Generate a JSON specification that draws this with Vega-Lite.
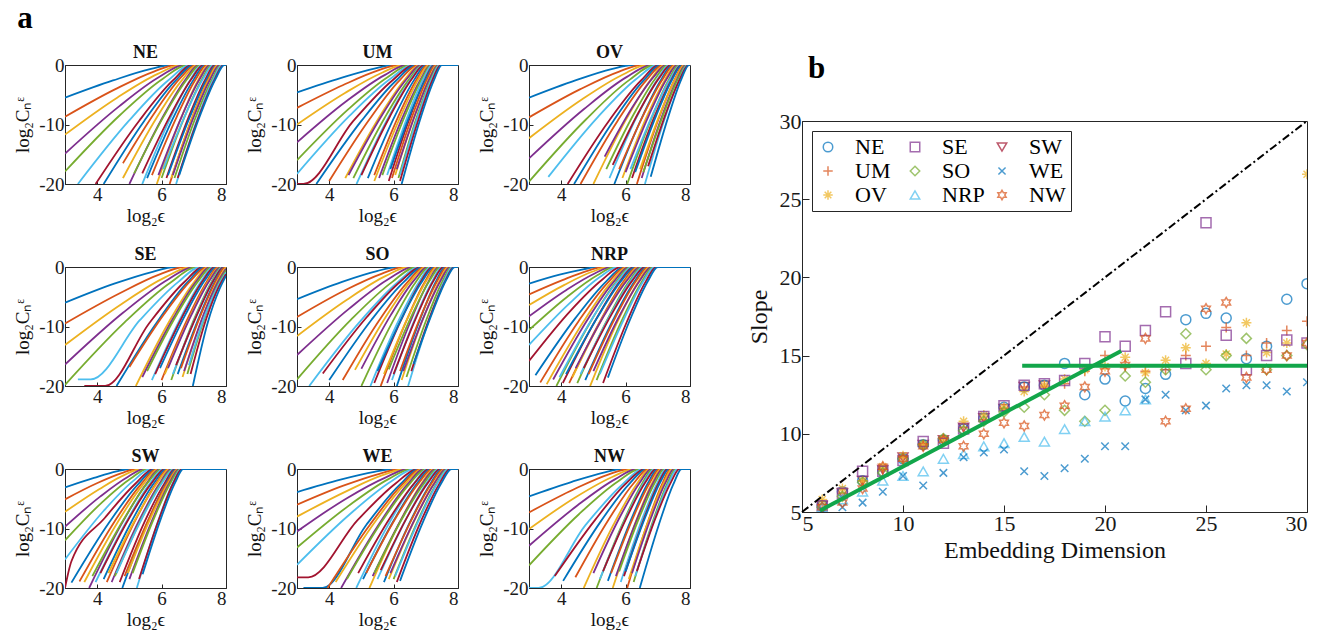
{
"$schema":"https://vega.github.io/schema/vega-lite/v6.json",
"padding":{"left":13,"top":2,"right":4,"bottom":0},
"config":{"font":"Liberation Serif","view":{"stroke":"#262626","strokeWidth":1},
"axis":{"grid":false,"domainColor":"#262626","tickColor":"#262626","labelColor":"#1a1a1a","titleColor":"#111111","labelFont":"Liberation Serif","titleFont":"Liberation Serif","titleFontWeight":"normal","tickSize":-5,"labelPadding":8},
"header":{"labelFont":"Liberation Serif","labelFontWeight":"bold","labelFontSize":18,"labelColor":"#111111","labelPadding":-6}},
"datasets":{
"curves":[
{"p":"NE","m":2,"x":3,"y":-5.5},{"p":"NE","m":2,"x":4.49,"y":-2.6},{"p":"NE","m":2,"x":5.64,"y":-0.7},{"p":"NE","m":2,"x":6.3,"y":0},{"p":"NE","m":2,"x":8,"y":0},
{"p":"NE","m":3,"x":3,"y":-8.7},{"p":"NE","m":3,"x":4.55,"y":-4.1},{"p":"NE","m":3,"x":5.76,"y":-1.1},{"p":"NE","m":3,"x":6.45,"y":0},{"p":"NE","m":3,"x":8,"y":0},
{"p":"NE","m":4,"x":3,"y":-11.7},{"p":"NE","m":4,"x":4.62,"y":-5.5},{"p":"NE","m":4,"x":5.88,"y":-1.5},{"p":"NE","m":4,"x":6.6,"y":0},{"p":"NE","m":4,"x":8,"y":0},
{"p":"NE","m":5,"x":3,"y":-14.9},{"p":"NE","m":5,"x":4.67,"y":-7.0},{"p":"NE","m":5,"x":5.96,"y":-1.9},{"p":"NE","m":5,"x":6.7,"y":0},{"p":"NE","m":5,"x":8,"y":0},
{"p":"NE","m":6,"x":3,"y":-17.9},{"p":"NE","m":6,"x":4.71,"y":-8.4},{"p":"NE","m":6,"x":6.04,"y":-2.3},{"p":"NE","m":6,"x":6.8,"y":0},{"p":"NE","m":6,"x":8,"y":0},
{"p":"NE","m":7,"x":3.4,"y":-20},{"p":"NE","m":7,"x":4.98,"y":-9.4},{"p":"NE","m":7,"x":6.2,"y":-2.6},{"p":"NE","m":7,"x":6.9,"y":0},{"p":"NE","m":7,"x":8,"y":0},
{"p":"NE","m":8,"x":3.95,"y":-20},{"p":"NE","m":8,"x":5.3,"y":-9.4},{"p":"NE","m":8,"x":6.35,"y":-2.6},{"p":"NE","m":8,"x":6.95,"y":0},{"p":"NE","m":8,"x":8,"y":0},
{"p":"NE","m":9,"x":4.2,"y":-20},{"p":"NE","m":9,"x":5.46,"y":-9.4},{"p":"NE","m":9,"x":6.44,"y":-2.6},{"p":"NE","m":9,"x":7.0,"y":0},{"p":"NE","m":9,"x":8,"y":0},
{"p":"NE","m":10,"x":4.8,"y":-16.5},{"p":"NE","m":10,"x":5.81,"y":-7.8},{"p":"NE","m":10,"x":6.6,"y":-2.1},{"p":"NE","m":10,"x":7.05,"y":0},{"p":"NE","m":10,"x":8,"y":0},
{"p":"NE","m":11,"x":4.8,"y":-19},{"p":"NE","m":11,"x":5.84,"y":-8.9},{"p":"NE","m":11,"x":6.64,"y":-2.5},{"p":"NE","m":11,"x":7.1,"y":0},{"p":"NE","m":11,"x":8,"y":0},
{"p":"NE","m":12,"x":5.0,"y":-20},{"p":"NE","m":12,"x":5.97,"y":-9.4},{"p":"NE","m":12,"x":6.72,"y":-2.6},{"p":"NE","m":12,"x":7.15,"y":0},{"p":"NE","m":12,"x":8,"y":0},
{"p":"NE","m":13,"x":5.15,"y":-18.2},{"p":"NE","m":13,"x":6.07,"y":-8.6},{"p":"NE","m":13,"x":6.79,"y":-2.4},{"p":"NE","m":13,"x":7.2,"y":0},{"p":"NE","m":13,"x":8,"y":0},
{"p":"NE","m":14,"x":5.4,"y":-20},{"p":"NE","m":14,"x":6.23,"y":-9.4},{"p":"NE","m":14,"x":6.88,"y":-2.6},{"p":"NE","m":14,"x":7.25,"y":0},{"p":"NE","m":14,"x":8,"y":0},
{"p":"NE","m":15,"x":5.4,"y":-18.2},{"p":"NE","m":15,"x":6.26,"y":-8.6},{"p":"NE","m":15,"x":6.92,"y":-2.4},{"p":"NE","m":15,"x":7.3,"y":0},{"p":"NE","m":15,"x":8,"y":0},
{"p":"NE","m":16,"x":5.55,"y":-19},{"p":"NE","m":16,"x":6.36,"y":-8.9},{"p":"NE","m":16,"x":6.99,"y":-2.5},{"p":"NE","m":16,"x":7.35,"y":0},{"p":"NE","m":16,"x":8,"y":0},
{"p":"NE","m":17,"x":5.7,"y":-18.5},{"p":"NE","m":17,"x":6.47,"y":-8.7},{"p":"NE","m":17,"x":7.06,"y":-2.4},{"p":"NE","m":17,"x":7.4,"y":0},{"p":"NE","m":17,"x":8,"y":0},
{"p":"NE","m":18,"x":5.85,"y":-20},{"p":"NE","m":18,"x":6.57,"y":-9.4},{"p":"NE","m":18,"x":7.13,"y":-2.6},{"p":"NE","m":18,"x":7.45,"y":0},{"p":"NE","m":18,"x":8,"y":0},
{"p":"NE","m":19,"x":5.9,"y":-18.5},{"p":"NE","m":19,"x":6.62,"y":-8.7},{"p":"NE","m":19,"x":7.18,"y":-2.4},{"p":"NE","m":19,"x":7.5,"y":0},{"p":"NE","m":19,"x":8,"y":0},
{"p":"NE","m":20,"x":6.0,"y":-19},{"p":"NE","m":20,"x":6.7,"y":-8.9},{"p":"NE","m":20,"x":7.24,"y":-2.5},{"p":"NE","m":20,"x":7.55,"y":0},{"p":"NE","m":20,"x":8,"y":0},
{"p":"NE","m":21,"x":6.05,"y":-17.5},{"p":"NE","m":21,"x":6.75,"y":-8.2},{"p":"NE","m":21,"x":7.29,"y":-2.3},{"p":"NE","m":21,"x":7.6,"y":0},{"p":"NE","m":21,"x":8,"y":0},
{"p":"NE","m":22,"x":6.15,"y":-19},{"p":"NE","m":22,"x":6.83,"y":-8.9},{"p":"NE","m":22,"x":7.35,"y":-2.5},{"p":"NE","m":22,"x":7.65,"y":0},{"p":"NE","m":22,"x":8,"y":0},
{"p":"NE","m":23,"x":6.2,"y":-18.5},{"p":"NE","m":23,"x":6.88,"y":-8.7},{"p":"NE","m":23,"x":7.4,"y":-2.4},{"p":"NE","m":23,"x":7.7,"y":0},{"p":"NE","m":23,"x":8,"y":0},
{"p":"NE","m":24,"x":6.25,"y":-20},{"p":"NE","m":24,"x":6.91,"y":-9.4},{"p":"NE","m":24,"x":7.43,"y":-2.6},{"p":"NE","m":24,"x":7.72,"y":0},{"p":"NE","m":24,"x":8,"y":0},
{"p":"NE","m":25,"x":6.3,"y":-19},{"p":"NE","m":25,"x":6.95,"y":-8.9},{"p":"NE","m":25,"x":7.46,"y":-2.5},{"p":"NE","m":25,"x":7.75,"y":0},{"p":"NE","m":25,"x":8,"y":0},
{"p":"NE","m":26,"x":6.35,"y":-18.5},{"p":"NE","m":26,"x":7.0,"y":-8.7},{"p":"NE","m":26,"x":7.51,"y":-2.4},{"p":"NE","m":26,"x":7.8,"y":0},{"p":"NE","m":26,"x":8,"y":0},
{"p":"NE","m":27,"x":6.4,"y":-19},{"p":"NE","m":27,"x":7.05,"y":-8.9},{"p":"NE","m":27,"x":7.56,"y":-2.5},{"p":"NE","m":27,"x":7.85,"y":0},{"p":"NE","m":27,"x":8,"y":0},
{"p":"NE","m":28,"x":6.45,"y":-20},{"p":"NE","m":28,"x":7.09,"y":-9.4},{"p":"NE","m":28,"x":7.59,"y":-2.6},{"p":"NE","m":28,"x":7.88,"y":0},{"p":"NE","m":28,"x":8,"y":0},
{"p":"NE","m":29,"x":6.5,"y":-19},{"p":"NE","m":29,"x":7.14,"y":-8.9},{"p":"NE","m":29,"x":7.64,"y":-2.5},{"p":"NE","m":29,"x":7.92,"y":0},{"p":"NE","m":29,"x":8,"y":0},
{"p":"NE","m":30,"x":6.55,"y":-18.5},{"p":"NE","m":30,"x":7.18,"y":-8.7},{"p":"NE","m":30,"x":7.67,"y":-2.4},{"p":"NE","m":30,"x":7.95,"y":0},{"p":"NE","m":30,"x":8,"y":0},
{"p":"UM","m":2,"x":3,"y":-4.6},{"p":"UM","m":2,"x":4.35,"y":-2.2},{"p":"UM","m":2,"x":5.4,"y":-0.6},{"p":"UM","m":2,"x":6.0,"y":0},{"p":"UM","m":2,"x":8,"y":0},
{"p":"UM","m":3,"x":3,"y":-7.2},{"p":"UM","m":3,"x":4.42,"y":-3.4},{"p":"UM","m":3,"x":5.52,"y":-0.9},{"p":"UM","m":3,"x":6.15,"y":0},{"p":"UM","m":3,"x":8,"y":0},
{"p":"UM","m":4,"x":3,"y":-10.0},{"p":"UM","m":4,"x":4.49,"y":-4.7},{"p":"UM","m":4,"x":5.64,"y":-1.3},{"p":"UM","m":4,"x":6.3,"y":0},{"p":"UM","m":4,"x":8,"y":0},
{"p":"UM","m":5,"x":3,"y":-13.0},{"p":"UM","m":5,"x":4.53,"y":-6.1},{"p":"UM","m":5,"x":5.72,"y":-1.7},{"p":"UM","m":5,"x":6.4,"y":0},{"p":"UM","m":5,"x":8,"y":0},
{"p":"UM","m":6,"x":3,"y":-16.0},{"p":"UM","m":6,"x":4.58,"y":-7.5},{"p":"UM","m":6,"x":5.8,"y":-2.1},{"p":"UM","m":6,"x":6.5,"y":0},{"p":"UM","m":6,"x":8,"y":0},
{"p":"UM","m":7,"x":3,"y":-18.3},{"p":"UM","m":7,"x":4.62,"y":-8.6},{"p":"UM","m":7,"x":5.88,"y":-2.4},{"p":"UM","m":7,"x":6.6,"y":0},{"p":"UM","m":7,"x":8,"y":0},
{"p":"UM","m":8,"x":3,"y":-20},{"p":"UM","m":8,"x":3.2,"y":-20},{"p":"UM","m":8,"x":4.75,"y":-9.4},{"p":"UM","m":8,"x":5.96,"y":-2.6},{"p":"UM","m":8,"x":6.65,"y":0},{"p":"UM","m":8,"x":8,"y":0},
{"p":"UM","m":9,"x":3.6,"y":-20},{"p":"UM","m":9,"x":5.0,"y":-9.4},{"p":"UM","m":9,"x":6.08,"y":-2.6},{"p":"UM","m":9,"x":6.7,"y":0},{"p":"UM","m":9,"x":8,"y":0},
{"p":"UM","m":10,"x":4.0,"y":-19.5},{"p":"UM","m":10,"x":5.24,"y":-9.2},{"p":"UM","m":10,"x":6.2,"y":-2.5},{"p":"UM","m":10,"x":6.75,"y":0},{"p":"UM","m":10,"x":8,"y":0},
{"p":"UM","m":11,"x":4.5,"y":-19},{"p":"UM","m":11,"x":5.54,"y":-8.9},{"p":"UM","m":11,"x":6.34,"y":-2.5},{"p":"UM","m":11,"x":6.8,"y":0},{"p":"UM","m":11,"x":8,"y":0},
{"p":"UM","m":12,"x":4.6,"y":-18.5},{"p":"UM","m":12,"x":5.61,"y":-8.7},{"p":"UM","m":12,"x":6.4,"y":-2.4},{"p":"UM","m":12,"x":6.85,"y":0},{"p":"UM","m":12,"x":8,"y":0},
{"p":"UM","m":13,"x":4.75,"y":-19},{"p":"UM","m":13,"x":5.72,"y":-8.9},{"p":"UM","m":13,"x":6.47,"y":-2.5},{"p":"UM","m":13,"x":6.9,"y":0},{"p":"UM","m":13,"x":8,"y":0},
{"p":"UM","m":14,"x":4.85,"y":-20},{"p":"UM","m":14,"x":5.78,"y":-9.4},{"p":"UM","m":14,"x":6.51,"y":-2.6},{"p":"UM","m":14,"x":6.92,"y":0},{"p":"UM","m":14,"x":8,"y":0},
{"p":"UM","m":15,"x":5.0,"y":-18.5},{"p":"UM","m":15,"x":5.88,"y":-8.7},{"p":"UM","m":15,"x":6.56,"y":-2.4},{"p":"UM","m":15,"x":6.95,"y":0},{"p":"UM","m":15,"x":8,"y":0},
{"p":"UM","m":16,"x":5.2,"y":-19},{"p":"UM","m":16,"x":6.01,"y":-8.9},{"p":"UM","m":16,"x":6.64,"y":-2.5},{"p":"UM","m":16,"x":7.0,"y":0},{"p":"UM","m":16,"x":8,"y":0},
{"p":"UM","m":17,"x":5.4,"y":-18.5},{"p":"UM","m":17,"x":6.14,"y":-8.7},{"p":"UM","m":17,"x":6.72,"y":-2.4},{"p":"UM","m":17,"x":7.05,"y":0},{"p":"UM","m":17,"x":8,"y":0},
{"p":"UM","m":18,"x":5.4,"y":-19.5},{"p":"UM","m":18,"x":6.17,"y":-9.2},{"p":"UM","m":18,"x":6.76,"y":-2.5},{"p":"UM","m":18,"x":7.1,"y":0},{"p":"UM","m":18,"x":8,"y":0},
{"p":"UM","m":19,"x":5.55,"y":-19},{"p":"UM","m":19,"x":6.27,"y":-8.9},{"p":"UM","m":19,"x":6.83,"y":-2.5},{"p":"UM","m":19,"x":7.15,"y":0},{"p":"UM","m":19,"x":8,"y":0},
{"p":"UM","m":20,"x":5.65,"y":-18.5},{"p":"UM","m":20,"x":6.34,"y":-8.7},{"p":"UM","m":20,"x":6.87,"y":-2.4},{"p":"UM","m":20,"x":7.18,"y":0},{"p":"UM","m":20,"x":8,"y":0},
{"p":"UM","m":21,"x":5.8,"y":-18.5},{"p":"UM","m":21,"x":6.43,"y":-8.7},{"p":"UM","m":21,"x":6.92,"y":-2.4},{"p":"UM","m":21,"x":7.2,"y":0},{"p":"UM","m":21,"x":8,"y":0},
{"p":"UM","m":22,"x":5.85,"y":-19.5},{"p":"UM","m":22,"x":6.48,"y":-9.2},{"p":"UM","m":22,"x":6.97,"y":-2.5},{"p":"UM","m":22,"x":7.25,"y":0},{"p":"UM","m":22,"x":8,"y":0},
{"p":"UM","m":23,"x":5.9,"y":-17.5},{"p":"UM","m":23,"x":6.52,"y":-8.2},{"p":"UM","m":23,"x":7.0,"y":-2.3},{"p":"UM","m":23,"x":7.28,"y":0},{"p":"UM","m":23,"x":8,"y":0},
{"p":"UM","m":24,"x":5.95,"y":-19},{"p":"UM","m":24,"x":6.56,"y":-8.9},{"p":"UM","m":24,"x":7.03,"y":-2.5},{"p":"UM","m":24,"x":7.3,"y":0},{"p":"UM","m":24,"x":8,"y":0},
{"p":"UM","m":25,"x":6.05,"y":-18.5},{"p":"UM","m":25,"x":6.64,"y":-8.7},{"p":"UM","m":25,"x":7.09,"y":-2.4},{"p":"UM","m":25,"x":7.35,"y":0},{"p":"UM","m":25,"x":8,"y":0},
{"p":"UM","m":26,"x":6.1,"y":-17.5},{"p":"UM","m":26,"x":6.68,"y":-8.2},{"p":"UM","m":26,"x":7.12,"y":-2.3},{"p":"UM","m":26,"x":7.38,"y":0},{"p":"UM","m":26,"x":8,"y":0},
{"p":"UM","m":27,"x":6.15,"y":-19},{"p":"UM","m":27,"x":6.71,"y":-8.9},{"p":"UM","m":27,"x":7.15,"y":-2.5},{"p":"UM","m":27,"x":7.4,"y":0},{"p":"UM","m":27,"x":8,"y":0},
{"p":"UM","m":28,"x":6.2,"y":-18.5},{"p":"UM","m":28,"x":6.75,"y":-8.7},{"p":"UM","m":28,"x":7.18,"y":-2.4},{"p":"UM","m":28,"x":7.43,"y":0},{"p":"UM","m":28,"x":8,"y":0},
{"p":"UM","m":29,"x":6.2,"y":-19.5},{"p":"UM","m":29,"x":6.77,"y":-9.2},{"p":"UM","m":29,"x":7.21,"y":-2.5},{"p":"UM","m":29,"x":7.46,"y":0},{"p":"UM","m":29,"x":8,"y":0},
{"p":"UM","m":30,"x":6.25,"y":-20},{"p":"UM","m":30,"x":6.81,"y":-9.4},{"p":"UM","m":30,"x":7.25,"y":-2.6},{"p":"UM","m":30,"x":7.5,"y":0},{"p":"UM","m":30,"x":8,"y":0},
{"p":"OV","m":2,"x":3,"y":-5.5},{"p":"OV","m":2,"x":4.44,"y":-2.6},{"p":"OV","m":2,"x":5.56,"y":-0.7},{"p":"OV","m":2,"x":6.2,"y":0},{"p":"OV","m":2,"x":8,"y":0},
{"p":"OV","m":3,"x":3,"y":-8.8},{"p":"OV","m":3,"x":4.58,"y":-4.1},{"p":"OV","m":3,"x":5.8,"y":-1.1},{"p":"OV","m":3,"x":6.5,"y":0},{"p":"OV","m":3,"x":8,"y":0},
{"p":"OV","m":4,"x":3,"y":-12.3},{"p":"OV","m":4,"x":4.64,"y":-5.8},{"p":"OV","m":4,"x":5.92,"y":-1.6},{"p":"OV","m":4,"x":6.65,"y":0},{"p":"OV","m":4,"x":8,"y":0},
{"p":"OV","m":5,"x":3,"y":-15.7},{"p":"OV","m":5,"x":4.71,"y":-7.4},{"p":"OV","m":5,"x":6.04,"y":-2.0},{"p":"OV","m":5,"x":6.8,"y":0},{"p":"OV","m":5,"x":8,"y":0},
{"p":"OV","m":6,"x":3,"y":-19.6},{"p":"OV","m":6,"x":4.76,"y":-9.2},{"p":"OV","m":6,"x":6.12,"y":-2.5},{"p":"OV","m":6,"x":6.9,"y":0},{"p":"OV","m":6,"x":8,"y":0},
{"p":"OV","m":7,"x":3.6,"y":-18.8},{"p":"OV","m":7,"x":5.13,"y":-8.8},{"p":"OV","m":7,"x":6.32,"y":-2.4},{"p":"OV","m":7,"x":7.0,"y":0},{"p":"OV","m":7,"x":8,"y":0},
{"p":"OV","m":8,"x":4.2,"y":-20},{"p":"OV","m":8,"x":5.48,"y":-9.4},{"p":"OV","m":8,"x":6.48,"y":-2.6},{"p":"OV","m":8,"x":7.05,"y":0},{"p":"OV","m":8,"x":8,"y":0},
{"p":"OV","m":9,"x":4.4,"y":-20},{"p":"OV","m":9,"x":5.62,"y":-9.4},{"p":"OV","m":9,"x":6.56,"y":-2.6},{"p":"OV","m":9,"x":7.1,"y":0},{"p":"OV","m":9,"x":8,"y":0},
{"p":"OV","m":10,"x":4.6,"y":-20},{"p":"OV","m":10,"x":5.75,"y":-9.4},{"p":"OV","m":10,"x":6.64,"y":-2.6},{"p":"OV","m":10,"x":7.15,"y":0},{"p":"OV","m":10,"x":8,"y":0},
{"p":"OV","m":11,"x":5.0,"y":-20},{"p":"OV","m":11,"x":5.99,"y":-9.4},{"p":"OV","m":11,"x":6.76,"y":-2.6},{"p":"OV","m":11,"x":7.2,"y":0},{"p":"OV","m":11,"x":8,"y":0},
{"p":"OV","m":12,"x":5.35,"y":-15.4},{"p":"OV","m":12,"x":6.2,"y":-7.2},{"p":"OV","m":12,"x":6.87,"y":-2.0},{"p":"OV","m":12,"x":7.25,"y":0},{"p":"OV","m":12,"x":8,"y":0},
{"p":"OV","m":13,"x":5.4,"y":-17.5},{"p":"OV","m":13,"x":6.26,"y":-8.2},{"p":"OV","m":13,"x":6.92,"y":-2.3},{"p":"OV","m":13,"x":7.3,"y":0},{"p":"OV","m":13,"x":8,"y":0},
{"p":"OV","m":14,"x":5.5,"y":-19},{"p":"OV","m":14,"x":6.33,"y":-8.9},{"p":"OV","m":14,"x":6.98,"y":-2.5},{"p":"OV","m":14,"x":7.35,"y":0},{"p":"OV","m":14,"x":8,"y":0},
{"p":"OV","m":15,"x":5.6,"y":-16.8},{"p":"OV","m":15,"x":6.41,"y":-7.9},{"p":"OV","m":15,"x":7.04,"y":-2.2},{"p":"OV","m":15,"x":7.4,"y":0},{"p":"OV","m":15,"x":8,"y":0},
{"p":"OV","m":16,"x":5.65,"y":-20},{"p":"OV","m":16,"x":6.46,"y":-9.4},{"p":"OV","m":16,"x":7.09,"y":-2.6},{"p":"OV","m":16,"x":7.45,"y":0},{"p":"OV","m":16,"x":8,"y":0},
{"p":"OV","m":17,"x":5.8,"y":-17.5},{"p":"OV","m":17,"x":6.57,"y":-8.2},{"p":"OV","m":17,"x":7.16,"y":-2.3},{"p":"OV","m":17,"x":7.5,"y":0},{"p":"OV","m":17,"x":8,"y":0},
{"p":"OV","m":18,"x":5.9,"y":-19},{"p":"OV","m":18,"x":6.64,"y":-8.9},{"p":"OV","m":18,"x":7.22,"y":-2.5},{"p":"OV","m":18,"x":7.55,"y":0},{"p":"OV","m":18,"x":8,"y":0},
{"p":"OV","m":19,"x":6.0,"y":-18},{"p":"OV","m":19,"x":6.72,"y":-8.5},{"p":"OV","m":19,"x":7.28,"y":-2.3},{"p":"OV","m":19,"x":7.6,"y":0},{"p":"OV","m":19,"x":8,"y":0},
{"p":"OV","m":20,"x":6.05,"y":-20},{"p":"OV","m":20,"x":6.77,"y":-9.4},{"p":"OV","m":20,"x":7.33,"y":-2.6},{"p":"OV","m":20,"x":7.65,"y":0},{"p":"OV","m":20,"x":8,"y":0},
{"p":"OV","m":21,"x":6.15,"y":-17.5},{"p":"OV","m":21,"x":6.85,"y":-8.2},{"p":"OV","m":21,"x":7.39,"y":-2.3},{"p":"OV","m":21,"x":7.7,"y":0},{"p":"OV","m":21,"x":8,"y":0},
{"p":"OV","m":22,"x":6.2,"y":-19},{"p":"OV","m":22,"x":6.88,"y":-8.9},{"p":"OV","m":22,"x":7.42,"y":-2.5},{"p":"OV","m":22,"x":7.72,"y":0},{"p":"OV","m":22,"x":8,"y":0},
{"p":"OV","m":23,"x":6.3,"y":-18},{"p":"OV","m":23,"x":6.95,"y":-8.5},{"p":"OV","m":23,"x":7.46,"y":-2.3},{"p":"OV","m":23,"x":7.75,"y":0},{"p":"OV","m":23,"x":8,"y":0},
{"p":"OV","m":24,"x":6.35,"y":-20},{"p":"OV","m":24,"x":7.0,"y":-9.4},{"p":"OV","m":24,"x":7.51,"y":-2.6},{"p":"OV","m":24,"x":7.8,"y":0},{"p":"OV","m":24,"x":8,"y":0},
{"p":"OV","m":25,"x":6.45,"y":-17.5},{"p":"OV","m":25,"x":7.07,"y":-8.2},{"p":"OV","m":25,"x":7.55,"y":-2.3},{"p":"OV","m":25,"x":7.83,"y":0},{"p":"OV","m":25,"x":8,"y":0},
{"p":"OV","m":26,"x":6.5,"y":-19},{"p":"OV","m":26,"x":7.11,"y":-8.9},{"p":"OV","m":26,"x":7.59,"y":-2.5},{"p":"OV","m":26,"x":7.86,"y":0},{"p":"OV","m":26,"x":8,"y":0},
{"p":"OV","m":27,"x":6.55,"y":-18},{"p":"OV","m":27,"x":7.16,"y":-8.5},{"p":"OV","m":27,"x":7.63,"y":-2.3},{"p":"OV","m":27,"x":7.9,"y":0},{"p":"OV","m":27,"x":8,"y":0},
{"p":"OV","m":28,"x":6.6,"y":-20},{"p":"OV","m":28,"x":7.19,"y":-9.4},{"p":"OV","m":28,"x":7.66,"y":-2.6},{"p":"OV","m":28,"x":7.92,"y":0},{"p":"OV","m":28,"x":8,"y":0},
{"p":"OV","m":29,"x":6.7,"y":-17},{"p":"OV","m":29,"x":7.26,"y":-8.0},{"p":"OV","m":29,"x":7.7,"y":-2.2},{"p":"OV","m":29,"x":7.95,"y":0},{"p":"OV","m":29,"x":8,"y":0},
{"p":"OV","m":30,"x":6.78,"y":-18.8},{"p":"OV","m":30,"x":7.32,"y":-8.8},{"p":"OV","m":30,"x":7.73,"y":-2.4},{"p":"OV","m":30,"x":7.97,"y":0},{"p":"OV","m":30,"x":8,"y":0},
{"p":"SE","m":2,"x":3,"y":-6.0},{"p":"SE","m":2,"x":4.53,"y":-2.8},{"p":"SE","m":2,"x":5.72,"y":-0.8},{"p":"SE","m":2,"x":6.4,"y":0},{"p":"SE","m":2,"x":8,"y":0},
{"p":"SE","m":3,"x":3,"y":-9.5},{"p":"SE","m":3,"x":4.67,"y":-4.5},{"p":"SE","m":3,"x":5.96,"y":-1.2},{"p":"SE","m":3,"x":6.7,"y":0},{"p":"SE","m":3,"x":8,"y":0},
{"p":"SE","m":4,"x":3,"y":-13.1},{"p":"SE","m":4,"x":4.76,"y":-6.2},{"p":"SE","m":4,"x":6.12,"y":-1.7},{"p":"SE","m":4,"x":6.9,"y":0},{"p":"SE","m":4,"x":8,"y":0},
{"p":"SE","m":5,"x":3,"y":-16.4},{"p":"SE","m":5,"x":4.8,"y":-7.7},{"p":"SE","m":5,"x":6.2,"y":-2.1},{"p":"SE","m":5,"x":7.0,"y":0},{"p":"SE","m":5,"x":8,"y":0},
{"p":"SE","m":6,"x":3,"y":-19.8},{"p":"SE","m":6,"x":4.85,"y":-9.3},{"p":"SE","m":6,"x":6.28,"y":-2.6},{"p":"SE","m":6,"x":7.1,"y":0},{"p":"SE","m":6,"x":8,"y":0},
{"p":"SE","m":7,"x":3.4,"y":-18.9},{"p":"SE","m":7,"x":3.8,"y":-18.9},{"p":"SE","m":7,"x":5.33,"y":-8.9},{"p":"SE","m":7,"x":6.52,"y":-2.5},{"p":"SE","m":7,"x":7.2,"y":0},{"p":"SE","m":7,"x":8,"y":0},
{"p":"SE","m":8,"x":3.6,"y":-20},{"p":"SE","m":8,"x":4.25,"y":-20},{"p":"SE","m":8,"x":5.62,"y":-9.4},{"p":"SE","m":8,"x":6.69,"y":-2.6},{"p":"SE","m":8,"x":7.3,"y":0},{"p":"SE","m":8,"x":8,"y":0},
{"p":"SE","m":9,"x":4.6,"y":-20},{"p":"SE","m":9,"x":5.84,"y":-9.4},{"p":"SE","m":9,"x":6.8,"y":-2.6},{"p":"SE","m":9,"x":7.35,"y":0},{"p":"SE","m":9,"x":8,"y":0},
{"p":"SE","m":10,"x":5.0,"y":-16.8},{"p":"SE","m":10,"x":6.08,"y":-7.9},{"p":"SE","m":10,"x":6.92,"y":-2.2},{"p":"SE","m":10,"x":7.4,"y":0},{"p":"SE","m":10,"x":8,"y":0},
{"p":"SE","m":11,"x":5.2,"y":-20},{"p":"SE","m":11,"x":6.21,"y":-9.4},{"p":"SE","m":11,"x":7.0,"y":-2.6},{"p":"SE","m":11,"x":7.45,"y":0},{"p":"SE","m":11,"x":8,"y":0},
{"p":"SE","m":12,"x":5.4,"y":-18.5},{"p":"SE","m":12,"x":6.35,"y":-8.7},{"p":"SE","m":12,"x":7.08,"y":-2.4},{"p":"SE","m":12,"x":7.5,"y":0},{"p":"SE","m":12,"x":8,"y":0},
{"p":"SE","m":13,"x":5.55,"y":-17.5},{"p":"SE","m":13,"x":6.45,"y":-8.2},{"p":"SE","m":13,"x":7.15,"y":-2.3},{"p":"SE","m":13,"x":7.55,"y":0},{"p":"SE","m":13,"x":8,"y":0},
{"p":"SE","m":14,"x":5.7,"y":-19},{"p":"SE","m":14,"x":6.56,"y":-8.9},{"p":"SE","m":14,"x":7.22,"y":-2.5},{"p":"SE","m":14,"x":7.6,"y":0},{"p":"SE","m":14,"x":8,"y":0},
{"p":"SE","m":15,"x":5.8,"y":-18},{"p":"SE","m":15,"x":6.63,"y":-8.5},{"p":"SE","m":15,"x":7.28,"y":-2.3},{"p":"SE","m":15,"x":7.65,"y":0},{"p":"SE","m":15,"x":8,"y":0},
{"p":"SE","m":16,"x":5.95,"y":-17},{"p":"SE","m":16,"x":6.74,"y":-8.0},{"p":"SE","m":16,"x":7.35,"y":-2.2},{"p":"SE","m":16,"x":7.7,"y":0},{"p":"SE","m":16,"x":8,"y":0},
{"p":"SE","m":17,"x":6.0,"y":-19},{"p":"SE","m":17,"x":6.79,"y":-8.9},{"p":"SE","m":17,"x":7.4,"y":-2.5},{"p":"SE","m":17,"x":7.75,"y":0},{"p":"SE","m":17,"x":8,"y":0},
{"p":"SE","m":18,"x":6.1,"y":-18},{"p":"SE","m":18,"x":6.87,"y":-8.5},{"p":"SE","m":18,"x":7.46,"y":-2.3},{"p":"SE","m":18,"x":7.8,"y":0},{"p":"SE","m":18,"x":8,"y":0},
{"p":"SE","m":19,"x":6.2,"y":-17},{"p":"SE","m":19,"x":6.93,"y":-8.0},{"p":"SE","m":19,"x":7.5,"y":-2.2},{"p":"SE","m":19,"x":7.83,"y":0},{"p":"SE","m":19,"x":8,"y":0},
{"p":"SE","m":20,"x":6.3,"y":-19},{"p":"SE","m":20,"x":7.0,"y":-8.9},{"p":"SE","m":20,"x":7.55,"y":-2.5},{"p":"SE","m":20,"x":7.86,"y":0},{"p":"SE","m":20,"x":8,"y":0},
{"p":"SE","m":21,"x":6.35,"y":-18},{"p":"SE","m":21,"x":7.05,"y":-8.5},{"p":"SE","m":21,"x":7.59,"y":-2.3},{"p":"SE","m":21,"x":7.9,"y":0},{"p":"SE","m":21,"x":8,"y":0},
{"p":"SE","m":22,"x":6.45,"y":-16.5},{"p":"SE","m":22,"x":7.12,"y":-7.8},{"p":"SE","m":22,"x":7.63,"y":-2.1},{"p":"SE","m":22,"x":7.93,"y":0},{"p":"SE","m":22,"x":8,"y":0},
{"p":"SE","m":23,"x":6.5,"y":-18},{"p":"SE","m":23,"x":7.16,"y":-8.5},{"p":"SE","m":23,"x":7.67,"y":-2.3},{"p":"SE","m":23,"x":7.96,"y":0},{"p":"SE","m":23,"x":8,"y":0},
{"p":"SE","m":24,"x":6.6,"y":-17},{"p":"SE","m":24,"x":7.22,"y":-8.0},{"p":"SE","m":24,"x":7.7,"y":-2.2},{"p":"SE","m":24,"x":7.98,"y":0},{"p":"SE","m":24,"x":8,"y":0},
{"p":"SE","m":25,"x":6.65,"y":-18.5},{"p":"SE","m":25,"x":7.26,"y":-8.7},{"p":"SE","m":25,"x":7.73,"y":-2.4},{"p":"SE","m":25,"x":8,"y":0},
{"p":"SE","m":26,"x":6.7,"y":-17.5},{"p":"SE","m":26,"x":7.29,"y":-8.2},{"p":"SE","m":26,"x":7.74,"y":-2.6},{"p":"SE","m":26,"x":8,"y":-0.3},
{"p":"SE","m":27,"x":6.8,"y":-18},{"p":"SE","m":27,"x":7.34,"y":-8.5},{"p":"SE","m":27,"x":7.76,"y":-2.9},{"p":"SE","m":27,"x":8,"y":-0.6},
{"p":"SE","m":28,"x":6.85,"y":-16.5},{"p":"SE","m":28,"x":7.37,"y":-7.8},{"p":"SE","m":28,"x":7.77,"y":-3.0},{"p":"SE","m":28,"x":8,"y":-0.9},
{"p":"SE","m":29,"x":6.9,"y":-18},{"p":"SE","m":29,"x":7.4,"y":-8.5},{"p":"SE","m":29,"x":7.78,"y":-3.3},{"p":"SE","m":29,"x":8,"y":-1.2},
{"p":"SE","m":30,"x":6.97,"y":-20},{"p":"SE","m":30,"x":7.43,"y":-9.4},{"p":"SE","m":30,"x":7.8,"y":-3.7},{"p":"SE","m":30,"x":8,"y":-1.5},
{"p":"SO","m":2,"x":3,"y":-5.4},{"p":"SO","m":2,"x":4.4,"y":-2.5},{"p":"SO","m":2,"x":5.48,"y":-0.7},{"p":"SO","m":2,"x":6.1,"y":0},{"p":"SO","m":2,"x":8,"y":0},
{"p":"SO","m":3,"x":3,"y":-8.4},{"p":"SO","m":3,"x":4.49,"y":-3.9},{"p":"SO","m":3,"x":5.64,"y":-1.1},{"p":"SO","m":3,"x":6.3,"y":0},{"p":"SO","m":3,"x":8,"y":0},
{"p":"SO","m":4,"x":3,"y":-11.6},{"p":"SO","m":4,"x":4.55,"y":-5.5},{"p":"SO","m":4,"x":5.76,"y":-1.5},{"p":"SO","m":4,"x":6.45,"y":0},{"p":"SO","m":4,"x":8,"y":0},
{"p":"SO","m":5,"x":3,"y":-14.8},{"p":"SO","m":5,"x":4.62,"y":-7.0},{"p":"SO","m":5,"x":5.88,"y":-1.9},{"p":"SO","m":5,"x":6.6,"y":0},{"p":"SO","m":5,"x":8,"y":0},
{"p":"SO","m":6,"x":3,"y":-18.9},{"p":"SO","m":6,"x":4.67,"y":-8.9},{"p":"SO","m":6,"x":5.96,"y":-2.5},{"p":"SO","m":6,"x":6.7,"y":0},{"p":"SO","m":6,"x":8,"y":0},
{"p":"SO","m":7,"x":3.38,"y":-20},{"p":"SO","m":7,"x":4.92,"y":-9.4},{"p":"SO","m":7,"x":6.12,"y":-2.6},{"p":"SO","m":7,"x":6.8,"y":0},{"p":"SO","m":7,"x":8,"y":0},
{"p":"SO","m":8,"x":3.8,"y":-17.9},{"p":"SO","m":8,"x":5.17,"y":-8.4},{"p":"SO","m":8,"x":6.24,"y":-2.3},{"p":"SO","m":8,"x":6.85,"y":0},{"p":"SO","m":8,"x":8,"y":0},
{"p":"SO","m":9,"x":4.0,"y":-19},{"p":"SO","m":9,"x":5.31,"y":-8.9},{"p":"SO","m":9,"x":6.32,"y":-2.5},{"p":"SO","m":9,"x":6.9,"y":0},{"p":"SO","m":9,"x":8,"y":0},
{"p":"SO","m":10,"x":4.42,"y":-19},{"p":"SO","m":10,"x":5.56,"y":-8.9},{"p":"SO","m":10,"x":6.44,"y":-2.5},{"p":"SO","m":10,"x":6.95,"y":0},{"p":"SO","m":10,"x":8,"y":0},
{"p":"SO","m":11,"x":4.8,"y":-17.3},{"p":"SO","m":11,"x":5.79,"y":-8.1},{"p":"SO","m":11,"x":6.56,"y":-2.2},{"p":"SO","m":11,"x":7.0,"y":0},{"p":"SO","m":11,"x":8,"y":0},
{"p":"SO","m":12,"x":5.0,"y":-17.1},{"p":"SO","m":12,"x":5.92,"y":-8.0},{"p":"SO","m":12,"x":6.64,"y":-2.2},{"p":"SO","m":12,"x":7.05,"y":0},{"p":"SO","m":12,"x":8,"y":0},
{"p":"SO","m":13,"x":5.0,"y":-20},{"p":"SO","m":13,"x":5.95,"y":-9.4},{"p":"SO","m":13,"x":6.68,"y":-2.6},{"p":"SO","m":13,"x":7.1,"y":0},{"p":"SO","m":13,"x":8,"y":0},
{"p":"SO","m":14,"x":5.28,"y":-20},{"p":"SO","m":14,"x":6.12,"y":-9.4},{"p":"SO","m":14,"x":6.78,"y":-2.6},{"p":"SO","m":14,"x":7.15,"y":0},{"p":"SO","m":14,"x":8,"y":0},
{"p":"SO","m":15,"x":5.4,"y":-19.5},{"p":"SO","m":15,"x":6.21,"y":-9.2},{"p":"SO","m":15,"x":6.84,"y":-2.5},{"p":"SO","m":15,"x":7.2,"y":0},{"p":"SO","m":15,"x":8,"y":0},
{"p":"SO","m":16,"x":5.5,"y":-17.5},{"p":"SO","m":16,"x":6.29,"y":-8.2},{"p":"SO","m":16,"x":6.9,"y":-2.3},{"p":"SO","m":16,"x":7.25,"y":0},{"p":"SO","m":16,"x":8,"y":0},
{"p":"SO","m":17,"x":5.6,"y":-20},{"p":"SO","m":17,"x":6.37,"y":-9.4},{"p":"SO","m":17,"x":6.96,"y":-2.6},{"p":"SO","m":17,"x":7.3,"y":0},{"p":"SO","m":17,"x":8,"y":0},
{"p":"SO","m":18,"x":5.7,"y":-18},{"p":"SO","m":18,"x":6.44,"y":-8.5},{"p":"SO","m":18,"x":7.02,"y":-2.3},{"p":"SO","m":18,"x":7.35,"y":0},{"p":"SO","m":18,"x":8,"y":0},
{"p":"SO","m":19,"x":5.8,"y":-19.5},{"p":"SO","m":19,"x":6.52,"y":-9.2},{"p":"SO","m":19,"x":7.08,"y":-2.5},{"p":"SO","m":19,"x":7.4,"y":0},{"p":"SO","m":19,"x":8,"y":0},
{"p":"SO","m":20,"x":5.85,"y":-17.2},{"p":"SO","m":20,"x":6.57,"y":-8.1},{"p":"SO","m":20,"x":7.13,"y":-2.2},{"p":"SO","m":20,"x":7.45,"y":0},{"p":"SO","m":20,"x":8,"y":0},
{"p":"SO","m":21,"x":5.95,"y":-19},{"p":"SO","m":21,"x":6.65,"y":-8.9},{"p":"SO","m":21,"x":7.19,"y":-2.5},{"p":"SO","m":21,"x":7.5,"y":0},{"p":"SO","m":21,"x":8,"y":0},
{"p":"SO","m":22,"x":6.0,"y":-18},{"p":"SO","m":22,"x":6.7,"y":-8.5},{"p":"SO","m":22,"x":7.24,"y":-2.3},{"p":"SO","m":22,"x":7.55,"y":0},{"p":"SO","m":22,"x":8,"y":0},
{"p":"SO","m":23,"x":6.1,"y":-20},{"p":"SO","m":23,"x":6.78,"y":-9.4},{"p":"SO","m":23,"x":7.3,"y":-2.6},{"p":"SO","m":23,"x":7.6,"y":0},{"p":"SO","m":23,"x":8,"y":0},
{"p":"SO","m":24,"x":6.2,"y":-17.5},{"p":"SO","m":24,"x":6.85,"y":-8.2},{"p":"SO","m":24,"x":7.36,"y":-2.3},{"p":"SO","m":24,"x":7.65,"y":0},{"p":"SO","m":24,"x":8,"y":0},
{"p":"SO","m":25,"x":6.25,"y":-19},{"p":"SO","m":25,"x":6.9,"y":-8.9},{"p":"SO","m":25,"x":7.41,"y":-2.5},{"p":"SO","m":25,"x":7.7,"y":0},{"p":"SO","m":25,"x":8,"y":0},
{"p":"SO","m":26,"x":6.3,"y":-17.5},{"p":"SO","m":26,"x":6.95,"y":-8.2},{"p":"SO","m":26,"x":7.46,"y":-2.3},{"p":"SO","m":26,"x":7.75,"y":0},{"p":"SO","m":26,"x":8,"y":0},
{"p":"SO","m":27,"x":6.4,"y":-18.5},{"p":"SO","m":27,"x":7.03,"y":-8.7},{"p":"SO","m":27,"x":7.52,"y":-2.4},{"p":"SO","m":27,"x":7.8,"y":0},{"p":"SO","m":27,"x":8,"y":0},
{"p":"SO","m":28,"x":6.45,"y":-20},{"p":"SO","m":28,"x":7.07,"y":-9.4},{"p":"SO","m":28,"x":7.55,"y":-2.6},{"p":"SO","m":28,"x":7.83,"y":0},{"p":"SO","m":28,"x":8,"y":0},
{"p":"SO","m":29,"x":6.55,"y":-17.5},{"p":"SO","m":29,"x":7.14,"y":-8.2},{"p":"SO","m":29,"x":7.61,"y":-2.3},{"p":"SO","m":29,"x":7.87,"y":0},{"p":"SO","m":29,"x":8,"y":0},
{"p":"SO","m":30,"x":6.62,"y":-16.3},{"p":"SO","m":30,"x":7.2,"y":-7.7},{"p":"SO","m":30,"x":7.64,"y":-2.1},{"p":"SO","m":30,"x":7.9,"y":0},{"p":"SO","m":30,"x":8,"y":0},
{"p":"NRP","m":2,"x":3,"y":-2.8},{"p":"NRP","m":2,"x":3.95,"y":-1.3},{"p":"NRP","m":2,"x":4.68,"y":-0.4},{"p":"NRP","m":2,"x":5.1,"y":0},{"p":"NRP","m":2,"x":8,"y":0},
{"p":"NRP","m":3,"x":3,"y":-4.6},{"p":"NRP","m":3,"x":4.04,"y":-2.2},{"p":"NRP","m":3,"x":4.84,"y":-0.6},{"p":"NRP","m":3,"x":5.3,"y":0},{"p":"NRP","m":3,"x":8,"y":0},
{"p":"NRP","m":4,"x":3,"y":-6.4},{"p":"NRP","m":4,"x":4.1,"y":-3.0},{"p":"NRP","m":4,"x":4.96,"y":-0.8},{"p":"NRP","m":4,"x":5.45,"y":0},{"p":"NRP","m":4,"x":8,"y":0},
{"p":"NRP","m":5,"x":3,"y":-8.3},{"p":"NRP","m":5,"x":4.15,"y":-3.9},{"p":"NRP","m":5,"x":5.04,"y":-1.1},{"p":"NRP","m":5,"x":5.55,"y":0},{"p":"NRP","m":5,"x":8,"y":0},
{"p":"NRP","m":6,"x":3,"y":-10.6},{"p":"NRP","m":6,"x":4.19,"y":-5.0},{"p":"NRP","m":6,"x":5.12,"y":-1.4},{"p":"NRP","m":6,"x":5.65,"y":0},{"p":"NRP","m":6,"x":8,"y":0},
{"p":"NRP","m":7,"x":3,"y":-13.1},{"p":"NRP","m":7,"x":4.24,"y":-6.2},{"p":"NRP","m":7,"x":5.2,"y":-1.7},{"p":"NRP","m":7,"x":5.75,"y":0},{"p":"NRP","m":7,"x":8,"y":0},
{"p":"NRP","m":8,"x":3,"y":-15.8},{"p":"NRP","m":8,"x":4.28,"y":-7.4},{"p":"NRP","m":8,"x":5.28,"y":-2.1},{"p":"NRP","m":8,"x":5.85,"y":0},{"p":"NRP","m":8,"x":8,"y":0},
{"p":"NRP","m":9,"x":3.2,"y":-18.2},{"p":"NRP","m":9,"x":4.44,"y":-8.6},{"p":"NRP","m":9,"x":5.4,"y":-2.4},{"p":"NRP","m":9,"x":5.95,"y":0},{"p":"NRP","m":9,"x":8,"y":0},
{"p":"NRP","m":10,"x":3.35,"y":-19.4},{"p":"NRP","m":10,"x":4.54,"y":-9.1},{"p":"NRP","m":10,"x":5.47,"y":-2.5},{"p":"NRP","m":10,"x":6.0,"y":0},{"p":"NRP","m":10,"x":8,"y":0},
{"p":"NRP","m":11,"x":3.55,"y":-19.7},{"p":"NRP","m":11,"x":4.68,"y":-9.3},{"p":"NRP","m":11,"x":5.55,"y":-2.6},{"p":"NRP","m":11,"x":6.05,"y":0},{"p":"NRP","m":11,"x":8,"y":0},
{"p":"NRP","m":12,"x":3.75,"y":-18.9},{"p":"NRP","m":12,"x":4.81,"y":-8.9},{"p":"NRP","m":12,"x":5.63,"y":-2.5},{"p":"NRP","m":12,"x":6.1,"y":0},{"p":"NRP","m":12,"x":8,"y":0},
{"p":"NRP","m":13,"x":3.85,"y":-20},{"p":"NRP","m":13,"x":4.89,"y":-9.4},{"p":"NRP","m":13,"x":5.69,"y":-2.6},{"p":"NRP","m":13,"x":6.15,"y":0},{"p":"NRP","m":13,"x":8,"y":0},
{"p":"NRP","m":14,"x":3.95,"y":-18.5},{"p":"NRP","m":14,"x":4.96,"y":-8.7},{"p":"NRP","m":14,"x":5.75,"y":-2.4},{"p":"NRP","m":14,"x":6.2,"y":0},{"p":"NRP","m":14,"x":8,"y":0},
{"p":"NRP","m":15,"x":4.05,"y":-19.5},{"p":"NRP","m":15,"x":5.04,"y":-9.2},{"p":"NRP","m":15,"x":5.81,"y":-2.5},{"p":"NRP","m":15,"x":6.25,"y":0},{"p":"NRP","m":15,"x":8,"y":0},
{"p":"NRP","m":16,"x":4.15,"y":-18},{"p":"NRP","m":16,"x":5.12,"y":-8.5},{"p":"NRP","m":16,"x":5.87,"y":-2.3},{"p":"NRP","m":16,"x":6.3,"y":0},{"p":"NRP","m":16,"x":8,"y":0},
{"p":"NRP","m":17,"x":4.25,"y":-19.5},{"p":"NRP","m":17,"x":5.2,"y":-9.2},{"p":"NRP","m":17,"x":5.93,"y":-2.5},{"p":"NRP","m":17,"x":6.35,"y":0},{"p":"NRP","m":17,"x":8,"y":0},
{"p":"NRP","m":18,"x":4.35,"y":-18.5},{"p":"NRP","m":18,"x":5.27,"y":-8.7},{"p":"NRP","m":18,"x":5.99,"y":-2.4},{"p":"NRP","m":18,"x":6.4,"y":0},{"p":"NRP","m":18,"x":8,"y":0},
{"p":"NRP","m":19,"x":4.45,"y":-17},{"p":"NRP","m":19,"x":5.35,"y":-8.0},{"p":"NRP","m":19,"x":6.05,"y":-2.2},{"p":"NRP","m":19,"x":6.45,"y":0},{"p":"NRP","m":19,"x":8,"y":0},
{"p":"NRP","m":20,"x":4.5,"y":-19.5},{"p":"NRP","m":20,"x":5.4,"y":-9.2},{"p":"NRP","m":20,"x":6.1,"y":-2.5},{"p":"NRP","m":20,"x":6.5,"y":0},{"p":"NRP","m":20,"x":8,"y":0},
{"p":"NRP","m":21,"x":4.6,"y":-18},{"p":"NRP","m":21,"x":5.48,"y":-8.5},{"p":"NRP","m":21,"x":6.16,"y":-2.3},{"p":"NRP","m":21,"x":6.55,"y":0},{"p":"NRP","m":21,"x":8,"y":0},
{"p":"NRP","m":22,"x":4.7,"y":-17},{"p":"NRP","m":22,"x":5.56,"y":-8.0},{"p":"NRP","m":22,"x":6.22,"y":-2.2},{"p":"NRP","m":22,"x":6.6,"y":0},{"p":"NRP","m":22,"x":8,"y":0},
{"p":"NRP","m":23,"x":4.75,"y":-19},{"p":"NRP","m":23,"x":5.61,"y":-8.9},{"p":"NRP","m":23,"x":6.27,"y":-2.5},{"p":"NRP","m":23,"x":6.65,"y":0},{"p":"NRP","m":23,"x":8,"y":0},
{"p":"NRP","m":24,"x":4.85,"y":-18},{"p":"NRP","m":24,"x":5.68,"y":-8.5},{"p":"NRP","m":24,"x":6.33,"y":-2.3},{"p":"NRP","m":24,"x":6.7,"y":0},{"p":"NRP","m":24,"x":8,"y":0},
{"p":"NRP","m":25,"x":4.9,"y":-20},{"p":"NRP","m":25,"x":5.73,"y":-9.4},{"p":"NRP","m":25,"x":6.38,"y":-2.6},{"p":"NRP","m":25,"x":6.75,"y":0},{"p":"NRP","m":25,"x":8,"y":0},
{"p":"NRP","m":26,"x":5.0,"y":-17.5},{"p":"NRP","m":26,"x":5.81,"y":-8.2},{"p":"NRP","m":26,"x":6.44,"y":-2.3},{"p":"NRP","m":26,"x":6.8,"y":0},{"p":"NRP","m":26,"x":8,"y":0},
{"p":"NRP","m":27,"x":5.1,"y":-19},{"p":"NRP","m":27,"x":5.89,"y":-8.9},{"p":"NRP","m":27,"x":6.5,"y":-2.5},{"p":"NRP","m":27,"x":6.85,"y":0},{"p":"NRP","m":27,"x":8,"y":0},
{"p":"NRP","m":28,"x":5.2,"y":-18},{"p":"NRP","m":28,"x":5.97,"y":-8.5},{"p":"NRP","m":28,"x":6.56,"y":-2.3},{"p":"NRP","m":28,"x":6.9,"y":0},{"p":"NRP","m":28,"x":8,"y":0},
{"p":"NRP","m":29,"x":5.3,"y":-19.5},{"p":"NRP","m":29,"x":6.04,"y":-9.2},{"p":"NRP","m":29,"x":6.62,"y":-2.5},{"p":"NRP","m":29,"x":6.95,"y":0},{"p":"NRP","m":29,"x":8,"y":0},
{"p":"NRP","m":30,"x":5.45,"y":-18.6},{"p":"NRP","m":30,"x":6.15,"y":-8.7},{"p":"NRP","m":30,"x":6.69,"y":-2.4},{"p":"NRP","m":30,"x":7.0,"y":0},{"p":"NRP","m":30,"x":8,"y":0},
{"p":"SW","m":2,"x":3,"y":-3.1},{"p":"SW","m":2,"x":3.9,"y":-1.5},{"p":"SW","m":2,"x":4.6,"y":-0.4},{"p":"SW","m":2,"x":5.0,"y":0},{"p":"SW","m":2,"x":8,"y":0},
{"p":"SW","m":3,"x":3,"y":-5.1},{"p":"SW","m":3,"x":3.99,"y":-2.4},{"p":"SW","m":3,"x":4.76,"y":-0.7},{"p":"SW","m":3,"x":5.2,"y":0},{"p":"SW","m":3,"x":8,"y":0},
{"p":"SW","m":4,"x":3,"y":-7.2},{"p":"SW","m":4,"x":4.06,"y":-3.4},{"p":"SW","m":4,"x":4.88,"y":-0.9},{"p":"SW","m":4,"x":5.35,"y":0},{"p":"SW","m":4,"x":8,"y":0},
{"p":"SW","m":5,"x":3,"y":-9.7},{"p":"SW","m":5,"x":4.1,"y":-4.6},{"p":"SW","m":5,"x":4.96,"y":-1.3},{"p":"SW","m":5,"x":5.45,"y":0},{"p":"SW","m":5,"x":8,"y":0},
{"p":"SW","m":6,"x":3,"y":-12.0},{"p":"SW","m":6,"x":4.15,"y":-5.6},{"p":"SW","m":6,"x":5.04,"y":-1.6},{"p":"SW","m":6,"x":5.55,"y":0},{"p":"SW","m":6,"x":8,"y":0},
{"p":"SW","m":7,"x":3,"y":-15.2},{"p":"SW","m":7,"x":4.19,"y":-7.1},{"p":"SW","m":7,"x":5.12,"y":-2.0},{"p":"SW","m":7,"x":5.65,"y":0},{"p":"SW","m":7,"x":8,"y":0},
{"p":"SW","m":8,"x":3,"y":-20},{"p":"SW","m":8,"x":3.2,"y":-15.5},{"p":"SW","m":8,"x":4.24,"y":-8.2},{"p":"SW","m":8,"x":5.2,"y":-2.4},{"p":"SW","m":8,"x":5.75,"y":0},{"p":"SW","m":8,"x":8,"y":0},
{"p":"SW","m":9,"x":3.2,"y":-19.1},{"p":"SW","m":9,"x":4.37,"y":-9.0},{"p":"SW","m":9,"x":5.28,"y":-2.5},{"p":"SW","m":9,"x":5.8,"y":0},{"p":"SW","m":9,"x":8,"y":0},
{"p":"SW","m":10,"x":3.45,"y":-18.9},{"p":"SW","m":10,"x":4.53,"y":-8.9},{"p":"SW","m":10,"x":5.37,"y":-2.5},{"p":"SW","m":10,"x":5.85,"y":0},{"p":"SW","m":10,"x":8,"y":0},
{"p":"SW","m":11,"x":3.6,"y":-19},{"p":"SW","m":11,"x":4.64,"y":-8.9},{"p":"SW","m":11,"x":5.44,"y":-2.5},{"p":"SW","m":11,"x":5.9,"y":0},{"p":"SW","m":11,"x":8,"y":0},
{"p":"SW","m":12,"x":3.75,"y":-20},{"p":"SW","m":12,"x":4.74,"y":-9.4},{"p":"SW","m":12,"x":5.51,"y":-2.6},{"p":"SW","m":12,"x":5.95,"y":0},{"p":"SW","m":12,"x":8,"y":0},
{"p":"SW","m":13,"x":3.85,"y":-18},{"p":"SW","m":13,"x":4.82,"y":-8.5},{"p":"SW","m":13,"x":5.57,"y":-2.3},{"p":"SW","m":13,"x":6.0,"y":0},{"p":"SW","m":13,"x":8,"y":0},
{"p":"SW","m":14,"x":3.95,"y":-19},{"p":"SW","m":14,"x":4.9,"y":-8.9},{"p":"SW","m":14,"x":5.63,"y":-2.5},{"p":"SW","m":14,"x":6.05,"y":0},{"p":"SW","m":14,"x":8,"y":0},
{"p":"SW","m":15,"x":4.1,"y":-17.5},{"p":"SW","m":15,"x":5.0,"y":-8.2},{"p":"SW","m":15,"x":5.7,"y":-2.3},{"p":"SW","m":15,"x":6.1,"y":0},{"p":"SW","m":15,"x":8,"y":0},
{"p":"SW","m":16,"x":4.2,"y":-18.5},{"p":"SW","m":16,"x":5.08,"y":-8.7},{"p":"SW","m":16,"x":5.76,"y":-2.4},{"p":"SW","m":16,"x":6.15,"y":0},{"p":"SW","m":16,"x":8,"y":0},
{"p":"SW","m":17,"x":4.3,"y":-19},{"p":"SW","m":17,"x":5.16,"y":-8.9},{"p":"SW","m":17,"x":5.82,"y":-2.5},{"p":"SW","m":17,"x":6.2,"y":0},{"p":"SW","m":17,"x":8,"y":0},
{"p":"SW","m":18,"x":4.35,"y":-17.5},{"p":"SW","m":18,"x":5.21,"y":-8.2},{"p":"SW","m":18,"x":5.87,"y":-2.3},{"p":"SW","m":18,"x":6.25,"y":0},{"p":"SW","m":18,"x":8,"y":0},
{"p":"SW","m":19,"x":4.45,"y":-19},{"p":"SW","m":19,"x":5.28,"y":-8.9},{"p":"SW","m":19,"x":5.93,"y":-2.5},{"p":"SW","m":19,"x":6.3,"y":0},{"p":"SW","m":19,"x":8,"y":0},
{"p":"SW","m":20,"x":4.55,"y":-18},{"p":"SW","m":20,"x":5.36,"y":-8.5},{"p":"SW","m":20,"x":5.99,"y":-2.3},{"p":"SW","m":20,"x":6.35,"y":0},{"p":"SW","m":20,"x":8,"y":0},
{"p":"SW","m":21,"x":4.6,"y":-17.5},{"p":"SW","m":21,"x":5.4,"y":-8.2},{"p":"SW","m":21,"x":6.02,"y":-2.3},{"p":"SW","m":21,"x":6.38,"y":0},{"p":"SW","m":21,"x":8,"y":0},
{"p":"SW","m":22,"x":4.7,"y":-19},{"p":"SW","m":22,"x":5.47,"y":-8.9},{"p":"SW","m":22,"x":6.08,"y":-2.5},{"p":"SW","m":22,"x":6.42,"y":0},{"p":"SW","m":22,"x":8,"y":0},
{"p":"SW","m":23,"x":4.78,"y":-20},{"p":"SW","m":23,"x":5.53,"y":-9.4},{"p":"SW","m":23,"x":6.12,"y":-2.6},{"p":"SW","m":23,"x":6.45,"y":0},{"p":"SW","m":23,"x":8,"y":0},
{"p":"SW","m":24,"x":4.85,"y":-18},{"p":"SW","m":24,"x":5.59,"y":-8.5},{"p":"SW","m":24,"x":6.17,"y":-2.3},{"p":"SW","m":24,"x":6.5,"y":0},{"p":"SW","m":24,"x":8,"y":0},
{"p":"SW","m":25,"x":4.95,"y":-17.5},{"p":"SW","m":25,"x":5.66,"y":-8.2},{"p":"SW","m":25,"x":6.21,"y":-2.3},{"p":"SW","m":25,"x":6.52,"y":0},{"p":"SW","m":25,"x":8,"y":0},
{"p":"SW","m":26,"x":5.0,"y":-18.5},{"p":"SW","m":26,"x":5.7,"y":-8.7},{"p":"SW","m":26,"x":6.24,"y":-2.4},{"p":"SW","m":26,"x":6.55,"y":0},{"p":"SW","m":26,"x":8,"y":0},
{"p":"SW","m":27,"x":5.1,"y":-17.5},{"p":"SW","m":27,"x":5.77,"y":-8.2},{"p":"SW","m":27,"x":6.28,"y":-2.3},{"p":"SW","m":27,"x":6.58,"y":0},{"p":"SW","m":27,"x":8,"y":0},
{"p":"SW","m":28,"x":5.23,"y":-20},{"p":"SW","m":28,"x":5.85,"y":-9.4},{"p":"SW","m":28,"x":6.33,"y":-2.6},{"p":"SW","m":28,"x":6.6,"y":0},{"p":"SW","m":28,"x":8,"y":0},
{"p":"SW","m":29,"x":5.3,"y":-18.5},{"p":"SW","m":29,"x":5.9,"y":-8.7},{"p":"SW","m":29,"x":6.36,"y":-2.4},{"p":"SW","m":29,"x":6.63,"y":0},{"p":"SW","m":29,"x":8,"y":0},
{"p":"SW","m":30,"x":5.41,"y":-17.7},{"p":"SW","m":30,"x":5.98,"y":-8.3},{"p":"SW","m":30,"x":6.42,"y":-2.3},{"p":"SW","m":30,"x":6.67,"y":0},{"p":"SW","m":30,"x":8,"y":0},
{"p":"WE","m":2,"x":3,"y":-3.9},{"p":"WE","m":2,"x":4.35,"y":-1.8},{"p":"WE","m":2,"x":5.4,"y":-0.5},{"p":"WE","m":2,"x":6.0,"y":0},{"p":"WE","m":2,"x":8,"y":0},
{"p":"WE","m":3,"x":3,"y":-6.0},{"p":"WE","m":3,"x":4.44,"y":-2.8},{"p":"WE","m":3,"x":5.56,"y":-0.8},{"p":"WE","m":3,"x":6.2,"y":0},{"p":"WE","m":3,"x":8,"y":0},
{"p":"WE","m":4,"x":3,"y":-8.0},{"p":"WE","m":4,"x":4.51,"y":-3.8},{"p":"WE","m":4,"x":5.68,"y":-1.0},{"p":"WE","m":4,"x":6.35,"y":0},{"p":"WE","m":4,"x":8,"y":0},
{"p":"WE","m":5,"x":3,"y":-10.5},{"p":"WE","m":5,"x":4.55,"y":-4.9},{"p":"WE","m":5,"x":5.76,"y":-1.4},{"p":"WE","m":5,"x":6.45,"y":0},{"p":"WE","m":5,"x":8,"y":0},
{"p":"WE","m":6,"x":3,"y":-13.2},{"p":"WE","m":6,"x":4.6,"y":-6.2},{"p":"WE","m":6,"x":5.84,"y":-1.7},{"p":"WE","m":6,"x":6.55,"y":0},{"p":"WE","m":6,"x":8,"y":0},
{"p":"WE","m":7,"x":3,"y":-16.1},{"p":"WE","m":7,"x":4.64,"y":-7.6},{"p":"WE","m":7,"x":5.92,"y":-2.1},{"p":"WE","m":7,"x":6.65,"y":0},{"p":"WE","m":7,"x":8,"y":0},
{"p":"WE","m":8,"x":3,"y":-18.2},{"p":"WE","m":8,"x":3.35,"y":-18.2},{"p":"WE","m":8,"x":4.88,"y":-8.6},{"p":"WE","m":8,"x":6.07,"y":-2.4},{"p":"WE","m":8,"x":6.75,"y":0},{"p":"WE","m":8,"x":8,"y":0},
{"p":"WE","m":9,"x":3.2,"y":-20},{"p":"WE","m":9,"x":3.8,"y":-20},{"p":"WE","m":9,"x":5.15,"y":-9.4},{"p":"WE","m":9,"x":6.2,"y":-2.6},{"p":"WE","m":9,"x":6.8,"y":0},{"p":"WE","m":9,"x":8,"y":0},
{"p":"WE","m":10,"x":3.95,"y":-20},{"p":"WE","m":10,"x":5.26,"y":-9.4},{"p":"WE","m":10,"x":6.27,"y":-2.6},{"p":"WE","m":10,"x":6.85,"y":0},{"p":"WE","m":10,"x":8,"y":0},
{"p":"WE","m":11,"x":4.2,"y":-19},{"p":"WE","m":11,"x":5.42,"y":-8.9},{"p":"WE","m":11,"x":6.36,"y":-2.5},{"p":"WE","m":11,"x":6.9,"y":0},{"p":"WE","m":11,"x":8,"y":0},
{"p":"WE","m":12,"x":4.37,"y":-20},{"p":"WE","m":12,"x":5.53,"y":-9.4},{"p":"WE","m":12,"x":6.43,"y":-2.6},{"p":"WE","m":12,"x":6.95,"y":0},{"p":"WE","m":12,"x":8,"y":0},
{"p":"WE","m":13,"x":4.55,"y":-18.5},{"p":"WE","m":13,"x":5.65,"y":-8.7},{"p":"WE","m":13,"x":6.51,"y":-2.4},{"p":"WE","m":13,"x":7.0,"y":0},{"p":"WE","m":13,"x":8,"y":0},
{"p":"WE","m":14,"x":4.84,"y":-20},{"p":"WE","m":14,"x":5.83,"y":-9.4},{"p":"WE","m":14,"x":6.61,"y":-2.6},{"p":"WE","m":14,"x":7.05,"y":0},{"p":"WE","m":14,"x":8,"y":0},
{"p":"WE","m":15,"x":4.9,"y":-17.5},{"p":"WE","m":15,"x":5.89,"y":-8.2},{"p":"WE","m":15,"x":6.66,"y":-2.3},{"p":"WE","m":15,"x":7.1,"y":0},{"p":"WE","m":15,"x":8,"y":0},
{"p":"WE","m":16,"x":5.05,"y":-18.5},{"p":"WE","m":16,"x":6.0,"y":-8.7},{"p":"WE","m":16,"x":6.73,"y":-2.4},{"p":"WE","m":16,"x":7.15,"y":0},{"p":"WE","m":16,"x":8,"y":0},
{"p":"WE","m":17,"x":5.15,"y":-17.5},{"p":"WE","m":17,"x":6.07,"y":-8.2},{"p":"WE","m":17,"x":6.79,"y":-2.3},{"p":"WE","m":17,"x":7.2,"y":0},{"p":"WE","m":17,"x":8,"y":0},
{"p":"WE","m":18,"x":5.25,"y":-20},{"p":"WE","m":18,"x":6.15,"y":-9.4},{"p":"WE","m":18,"x":6.85,"y":-2.6},{"p":"WE","m":18,"x":7.25,"y":0},{"p":"WE","m":18,"x":8,"y":0},
{"p":"WE","m":19,"x":5.35,"y":-18},{"p":"WE","m":19,"x":6.23,"y":-8.5},{"p":"WE","m":19,"x":6.91,"y":-2.3},{"p":"WE","m":19,"x":7.3,"y":0},{"p":"WE","m":19,"x":8,"y":0},
{"p":"WE","m":20,"x":5.4,"y":-17.5},{"p":"WE","m":20,"x":6.28,"y":-8.2},{"p":"WE","m":20,"x":6.96,"y":-2.3},{"p":"WE","m":20,"x":7.35,"y":0},{"p":"WE","m":20,"x":8,"y":0},
{"p":"WE","m":21,"x":5.5,"y":-18.5},{"p":"WE","m":21,"x":6.36,"y":-8.7},{"p":"WE","m":21,"x":7.02,"y":-2.4},{"p":"WE","m":21,"x":7.4,"y":0},{"p":"WE","m":21,"x":8,"y":0},
{"p":"WE","m":22,"x":5.6,"y":-17},{"p":"WE","m":22,"x":6.43,"y":-8.0},{"p":"WE","m":22,"x":7.08,"y":-2.2},{"p":"WE","m":22,"x":7.45,"y":0},{"p":"WE","m":22,"x":8,"y":0},
{"p":"WE","m":23,"x":5.7,"y":-19},{"p":"WE","m":23,"x":6.51,"y":-8.9},{"p":"WE","m":23,"x":7.14,"y":-2.5},{"p":"WE","m":23,"x":7.5,"y":0},{"p":"WE","m":23,"x":8,"y":0},
{"p":"WE","m":24,"x":5.75,"y":-18},{"p":"WE","m":24,"x":6.56,"y":-8.5},{"p":"WE","m":24,"x":7.19,"y":-2.3},{"p":"WE","m":24,"x":7.55,"y":0},{"p":"WE","m":24,"x":8,"y":0},
{"p":"WE","m":25,"x":5.85,"y":-18.5},{"p":"WE","m":25,"x":6.64,"y":-8.7},{"p":"WE","m":25,"x":7.25,"y":-2.4},{"p":"WE","m":25,"x":7.6,"y":0},{"p":"WE","m":25,"x":8,"y":0},
{"p":"WE","m":26,"x":5.9,"y":-17.5},{"p":"WE","m":26,"x":6.68,"y":-8.2},{"p":"WE","m":26,"x":7.28,"y":-2.3},{"p":"WE","m":26,"x":7.63,"y":0},{"p":"WE","m":26,"x":8,"y":0},
{"p":"WE","m":27,"x":6.0,"y":-18.5},{"p":"WE","m":27,"x":6.75,"y":-8.7},{"p":"WE","m":27,"x":7.34,"y":-2.4},{"p":"WE","m":27,"x":7.67,"y":0},{"p":"WE","m":27,"x":8,"y":0},
{"p":"WE","m":28,"x":6.05,"y":-18},{"p":"WE","m":28,"x":6.79,"y":-8.5},{"p":"WE","m":28,"x":7.37,"y":-2.3},{"p":"WE","m":28,"x":7.7,"y":0},{"p":"WE","m":28,"x":8,"y":0},
{"p":"WE","m":29,"x":6.1,"y":-19},{"p":"WE","m":29,"x":6.84,"y":-8.9},{"p":"WE","m":29,"x":7.42,"y":-2.5},{"p":"WE","m":29,"x":7.75,"y":0},{"p":"WE","m":29,"x":8,"y":0},
{"p":"WE","m":30,"x":6.2,"y":-18.8},{"p":"WE","m":30,"x":6.92,"y":-8.8},{"p":"WE","m":30,"x":7.48,"y":-2.4},{"p":"WE","m":30,"x":7.8,"y":0},{"p":"WE","m":30,"x":8,"y":0},
{"p":"NW","m":2,"x":3,"y":-4.6},{"p":"NW","m":2,"x":4.31,"y":-2.2},{"p":"NW","m":2,"x":5.32,"y":-0.6},{"p":"NW","m":2,"x":5.9,"y":0},{"p":"NW","m":2,"x":8,"y":0},
{"p":"NW","m":3,"x":3,"y":-7.3},{"p":"NW","m":3,"x":4.4,"y":-3.4},{"p":"NW","m":3,"x":5.48,"y":-0.9},{"p":"NW","m":3,"x":6.1,"y":0},{"p":"NW","m":3,"x":8,"y":0},
{"p":"NW","m":4,"x":3,"y":-10.1},{"p":"NW","m":4,"x":4.46,"y":-4.7},{"p":"NW","m":4,"x":5.6,"y":-1.3},{"p":"NW","m":4,"x":6.25,"y":0},{"p":"NW","m":4,"x":8,"y":0},
{"p":"NW","m":5,"x":3,"y":-12.9},{"p":"NW","m":5,"x":4.51,"y":-6.1},{"p":"NW","m":5,"x":5.68,"y":-1.7},{"p":"NW","m":5,"x":6.35,"y":0},{"p":"NW","m":5,"x":8,"y":0},
{"p":"NW","m":6,"x":3,"y":-16.2},{"p":"NW","m":6,"x":4.55,"y":-7.6},{"p":"NW","m":6,"x":5.76,"y":-2.1},{"p":"NW","m":6,"x":6.45,"y":0},{"p":"NW","m":6,"x":8,"y":0},
{"p":"NW","m":7,"x":3,"y":-20},{"p":"NW","m":7,"x":3.3,"y":-20},{"p":"NW","m":7,"x":4.76,"y":-9.4},{"p":"NW","m":7,"x":5.9,"y":-2.6},{"p":"NW","m":7,"x":6.55,"y":0},{"p":"NW","m":7,"x":8,"y":0},
{"p":"NW","m":8,"x":3.8,"y":-18},{"p":"NW","m":8,"x":5.06,"y":-8.5},{"p":"NW","m":8,"x":6.04,"y":-2.3},{"p":"NW","m":8,"x":6.6,"y":0},{"p":"NW","m":8,"x":8,"y":0},
{"p":"NW","m":9,"x":4.06,"y":-18.8},{"p":"NW","m":9,"x":5.23,"y":-8.8},{"p":"NW","m":9,"x":6.13,"y":-2.4},{"p":"NW","m":9,"x":6.65,"y":0},{"p":"NW","m":9,"x":8,"y":0},
{"p":"NW","m":10,"x":4.44,"y":-18.2},{"p":"NW","m":10,"x":5.46,"y":-8.6},{"p":"NW","m":10,"x":6.25,"y":-2.4},{"p":"NW","m":10,"x":6.7,"y":0},{"p":"NW","m":10,"x":8,"y":0},
{"p":"NW","m":11,"x":4.7,"y":-20},{"p":"NW","m":11,"x":5.62,"y":-9.4},{"p":"NW","m":11,"x":6.34,"y":-2.6},{"p":"NW","m":11,"x":6.75,"y":0},{"p":"NW","m":11,"x":8,"y":0},
{"p":"NW","m":12,"x":5.0,"y":-17.5},{"p":"NW","m":12,"x":5.81,"y":-8.2},{"p":"NW","m":12,"x":6.44,"y":-2.3},{"p":"NW","m":12,"x":6.8,"y":0},{"p":"NW","m":12,"x":8,"y":0},
{"p":"NW","m":13,"x":5.1,"y":-20},{"p":"NW","m":13,"x":5.89,"y":-9.4},{"p":"NW","m":13,"x":6.5,"y":-2.6},{"p":"NW","m":13,"x":6.85,"y":0},{"p":"NW","m":13,"x":8,"y":0},
{"p":"NW","m":14,"x":5.2,"y":-18.5},{"p":"NW","m":14,"x":5.97,"y":-8.7},{"p":"NW","m":14,"x":6.56,"y":-2.4},{"p":"NW","m":14,"x":6.9,"y":0},{"p":"NW","m":14,"x":8,"y":0},
{"p":"NW","m":15,"x":5.3,"y":-17.2},{"p":"NW","m":15,"x":6.04,"y":-8.1},{"p":"NW","m":15,"x":6.62,"y":-2.2},{"p":"NW","m":15,"x":6.95,"y":0},{"p":"NW","m":15,"x":8,"y":0},
{"p":"NW","m":16,"x":5.45,"y":-18.8},{"p":"NW","m":16,"x":6.15,"y":-8.8},{"p":"NW","m":16,"x":6.69,"y":-2.4},{"p":"NW","m":16,"x":7.0,"y":0},{"p":"NW","m":16,"x":8,"y":0},
{"p":"NW","m":17,"x":5.55,"y":-17.5},{"p":"NW","m":17,"x":6.23,"y":-8.2},{"p":"NW","m":17,"x":6.75,"y":-2.3},{"p":"NW","m":17,"x":7.05,"y":0},{"p":"NW","m":17,"x":8,"y":0},
{"p":"NW","m":18,"x":5.6,"y":-20},{"p":"NW","m":18,"x":6.28,"y":-9.4},{"p":"NW","m":18,"x":6.8,"y":-2.6},{"p":"NW","m":18,"x":7.1,"y":0},{"p":"NW","m":18,"x":8,"y":0},
{"p":"NW","m":19,"x":5.7,"y":-18},{"p":"NW","m":19,"x":6.35,"y":-8.5},{"p":"NW","m":19,"x":6.86,"y":-2.3},{"p":"NW","m":19,"x":7.15,"y":0},{"p":"NW","m":19,"x":8,"y":0},
{"p":"NW","m":20,"x":5.8,"y":-17.2},{"p":"NW","m":20,"x":6.43,"y":-8.1},{"p":"NW","m":20,"x":6.92,"y":-2.2},{"p":"NW","m":20,"x":7.2,"y":0},{"p":"NW","m":20,"x":8,"y":0},
{"p":"NW","m":21,"x":5.85,"y":-19},{"p":"NW","m":21,"x":6.48,"y":-8.9},{"p":"NW","m":21,"x":6.97,"y":-2.5},{"p":"NW","m":21,"x":7.25,"y":0},{"p":"NW","m":21,"x":8,"y":0},
{"p":"NW","m":22,"x":5.95,"y":-18},{"p":"NW","m":22,"x":6.56,"y":-8.5},{"p":"NW","m":22,"x":7.03,"y":-2.3},{"p":"NW","m":22,"x":7.3,"y":0},{"p":"NW","m":22,"x":8,"y":0},
{"p":"NW","m":23,"x":6.0,"y":-17.2},{"p":"NW","m":23,"x":6.61,"y":-8.1},{"p":"NW","m":23,"x":7.08,"y":-2.2},{"p":"NW","m":23,"x":7.35,"y":0},{"p":"NW","m":23,"x":8,"y":0},
{"p":"NW","m":24,"x":6.05,"y":-20},{"p":"NW","m":24,"x":6.66,"y":-9.4},{"p":"NW","m":24,"x":7.13,"y":-2.6},{"p":"NW","m":24,"x":7.4,"y":0},{"p":"NW","m":24,"x":8,"y":0},
{"p":"NW","m":25,"x":6.1,"y":-18.5},{"p":"NW","m":25,"x":6.71,"y":-8.7},{"p":"NW","m":25,"x":7.18,"y":-2.4},{"p":"NW","m":25,"x":7.45,"y":0},{"p":"NW","m":25,"x":8,"y":0},
{"p":"NW","m":26,"x":6.2,"y":-17.5},{"p":"NW","m":26,"x":6.79,"y":-8.2},{"p":"NW","m":26,"x":7.24,"y":-2.3},{"p":"NW","m":26,"x":7.5,"y":0},{"p":"NW","m":26,"x":8,"y":0},
{"p":"NW","m":27,"x":6.25,"y":-19},{"p":"NW","m":27,"x":6.84,"y":-8.9},{"p":"NW","m":27,"x":7.29,"y":-2.5},{"p":"NW","m":27,"x":7.55,"y":0},{"p":"NW","m":27,"x":8,"y":0},
{"p":"NW","m":28,"x":6.3,"y":-18},{"p":"NW","m":28,"x":6.89,"y":-8.5},{"p":"NW","m":28,"x":7.34,"y":-2.3},{"p":"NW","m":28,"x":7.6,"y":0},{"p":"NW","m":28,"x":8,"y":0},
{"p":"NW","m":29,"x":6.35,"y":-17.2},{"p":"NW","m":29,"x":6.94,"y":-8.1},{"p":"NW","m":29,"x":7.41,"y":-2.2},{"p":"NW","m":29,"x":7.67,"y":0},{"p":"NW","m":29,"x":8,"y":0},
{"p":"NW","m":30,"x":6.44,"y":-20},{"p":"NW","m":30,"x":7.03,"y":-9.4},{"p":"NW","m":30,"x":7.48,"y":-2.6},{"p":"NW","m":30,"x":7.74,"y":0},{"p":"NW","m":30,"x":8,"y":0}
],
"slopes":[
{"s":"SW","x":6,"y":5.4},{"s":"SW","x":7,"y":6.2},{"s":"SW","x":8,"y":7.0},{"s":"SW","x":9,"y":7.7},{"s":"SW","x":10,"y":8.5},{"s":"SW","x":11,"y":9.3},{"s":"SW","x":12,"y":9.6},{"s":"SW","x":13,"y":10.4},{"s":"SW","x":14,"y":11.0},{"s":"SW","x":15,"y":11.6},{"s":"SW","x":16,"y":13.0},{"s":"SW","x":17,"y":13.1},
{"s":"NE","x":6,"y":5.4},{"s":"NE","x":7,"y":6.3},{"s":"NE","x":8,"y":7.0},{"s":"NE","x":9,"y":7.6},{"s":"NE","x":10,"y":8.4},{"s":"NE","x":11,"y":9.3},{"s":"NE","x":12,"y":9.6},{"s":"NE","x":13,"y":10.3},{"s":"NE","x":14,"y":11.0},{"s":"NE","x":15,"y":11.7},{"s":"NE","x":16,"y":13.0},{"s":"NE","x":17,"y":13.1},{"s":"NE","x":18,"y":14.5},{"s":"NE","x":19,"y":12.5},{"s":"NE","x":20,"y":13.5},{"s":"NE","x":21,"y":12.1},{"s":"NE","x":22,"y":12.9},{"s":"NE","x":23,"y":13.8},{"s":"NE","x":24,"y":17.3},{"s":"NE","x":25,"y":17.7},{"s":"NE","x":26,"y":17.4},{"s":"NE","x":27,"y":14.8},{"s":"NE","x":28,"y":15.6},{"s":"NE","x":29,"y":18.6},{"s":"NE","x":30,"y":19.6},
{"s":"UM","x":6,"y":5.5},{"s":"UM","x":7,"y":6.2},{"s":"UM","x":8,"y":7.0},{"s":"UM","x":9,"y":7.7},{"s":"UM","x":10,"y":8.5},{"s":"UM","x":11,"y":9.2},{"s":"UM","x":12,"y":9.7},{"s":"UM","x":13,"y":10.4},{"s":"UM","x":14,"y":10.9},{"s":"UM","x":15,"y":11.6},{"s":"UM","x":16,"y":13.0},{"s":"UM","x":17,"y":13.0},{"s":"UM","x":18,"y":13.2},{"s":"UM","x":19,"y":14.0},{"s":"UM","x":20,"y":15.0},{"s":"UM","x":21,"y":14.3},{"s":"UM","x":22,"y":14.0},{"s":"UM","x":23,"y":14.1},{"s":"UM","x":24,"y":15.0},{"s":"UM","x":25,"y":15.6},{"s":"UM","x":26,"y":16.8},{"s":"UM","x":27,"y":15.0},{"s":"UM","x":28,"y":15.8},{"s":"UM","x":29,"y":16.6},{"s":"UM","x":30,"y":17.2},
{"s":"OV","x":6,"y":5.8},{"s":"OV","x":7,"y":6.5},{"s":"OV","x":8,"y":7.0},{"s":"OV","x":9,"y":7.9},{"s":"OV","x":10,"y":8.6},{"s":"OV","x":11,"y":9.3},{"s":"OV","x":12,"y":9.7},{"s":"OV","x":13,"y":10.8},{"s":"OV","x":14,"y":11.2},{"s":"OV","x":15,"y":11.7},{"s":"OV","x":16,"y":12.7},{"s":"OV","x":17,"y":13.1},{"s":"OV","x":18,"y":13.5},{"s":"OV","x":19,"y":14.1},{"s":"OV","x":20,"y":14.3},{"s":"OV","x":21,"y":14.9},{"s":"OV","x":22,"y":13.9},{"s":"OV","x":23,"y":14.7},{"s":"OV","x":24,"y":15.5},{"s":"OV","x":25,"y":14.5},{"s":"OV","x":26,"y":15.1},{"s":"OV","x":27,"y":17.1},{"s":"OV","x":28,"y":15.2},{"s":"OV","x":29,"y":15.8},{"s":"OV","x":30,"y":26.6},
{"s":"SE","x":6,"y":5.4},{"s":"SE","x":7,"y":6.2},{"s":"SE","x":8,"y":7.6},{"s":"SE","x":9,"y":7.6},{"s":"SE","x":10,"y":8.3},{"s":"SE","x":11,"y":9.5},{"s":"SE","x":12,"y":9.4},{"s":"SE","x":13,"y":10.3},{"s":"SE","x":14,"y":11.1},{"s":"SE","x":15,"y":11.8},{"s":"SE","x":16,"y":13.1},{"s":"SE","x":17,"y":13.2},{"s":"SE","x":18,"y":13.4},{"s":"SE","x":19,"y":14.5},{"s":"SE","x":20,"y":16.2},{"s":"SE","x":21,"y":15.6},{"s":"SE","x":22,"y":16.6},{"s":"SE","x":23,"y":17.8},{"s":"SE","x":24,"y":14.5},{"s":"SE","x":25,"y":23.5},{"s":"SE","x":26,"y":16.3},{"s":"SE","x":27,"y":14.1},{"s":"SE","x":28,"y":15.0},{"s":"SE","x":29,"y":16.0},{"s":"SE","x":30,"y":15.8},
{"s":"SO","x":6,"y":5.3},{"s":"SO","x":7,"y":6.0},{"s":"SO","x":8,"y":6.9},{"s":"SO","x":9,"y":7.5},{"s":"SO","x":10,"y":8.4},{"s":"SO","x":11,"y":9.3},{"s":"SO","x":12,"y":9.7},{"s":"SO","x":13,"y":10.2},{"s":"SO","x":14,"y":10.8},{"s":"SO","x":15,"y":11.4},{"s":"SO","x":16,"y":11.7},{"s":"SO","x":17,"y":12.5},{"s":"SO","x":18,"y":11.5},{"s":"SO","x":19,"y":10.8},{"s":"SO","x":20,"y":11.5},{"s":"SO","x":21,"y":13.7},{"s":"SO","x":22,"y":13.3},{"s":"SO","x":23,"y":14.1},{"s":"SO","x":24,"y":16.4},{"s":"SO","x":25,"y":14.1},{"s":"SO","x":26,"y":15.0},{"s":"SO","x":27,"y":16.1},{"s":"SO","x":28,"y":14.1},{"s":"SO","x":29,"y":15.0},{"s":"SO","x":30,"y":15.7},
{"s":"NRP","x":6,"y":5.3},{"s":"NRP","x":7,"y":5.8},{"s":"NRP","x":8,"y":6.3},{"s":"NRP","x":9,"y":7.0},{"s":"NRP","x":10,"y":7.3},{"s":"NRP","x":11,"y":7.6},{"s":"NRP","x":12,"y":8.4},{"s":"NRP","x":13,"y":8.7},{"s":"NRP","x":14,"y":9.2},{"s":"NRP","x":15,"y":9.4},{"s":"NRP","x":16,"y":9.8},{"s":"NRP","x":17,"y":9.5},{"s":"NRP","x":18,"y":10.3},{"s":"NRP","x":19,"y":10.8},{"s":"NRP","x":20,"y":11.1},{"s":"NRP","x":21,"y":11.5},{"s":"NRP","x":22,"y":12.2},
{"s":"WE","x":6,"y":5.1},{"s":"WE","x":7,"y":5.3},{"s":"WE","x":8,"y":5.6},{"s":"WE","x":9,"y":6.3},{"s":"WE","x":10,"y":7.3},{"s":"WE","x":11,"y":6.7},{"s":"WE","x":12,"y":7.5},{"s":"WE","x":13,"y":8.5},{"s":"WE","x":14,"y":8.8},{"s":"WE","x":15,"y":9.0},{"s":"WE","x":16,"y":7.6},{"s":"WE","x":17,"y":7.3},{"s":"WE","x":18,"y":7.8},{"s":"WE","x":19,"y":8.4},{"s":"WE","x":20,"y":9.2},{"s":"WE","x":21,"y":9.2},{"s":"WE","x":22,"y":12.2},{"s":"WE","x":23,"y":12.5},{"s":"WE","x":24,"y":11.5},{"s":"WE","x":25,"y":11.8},{"s":"WE","x":26,"y":12.9},{"s":"WE","x":27,"y":13.1},{"s":"WE","x":28,"y":13.1},{"s":"WE","x":29,"y":12.7},{"s":"WE","x":30,"y":13.3},
{"s":"NW","x":6,"y":5.3},{"s":"NW","x":7,"y":5.6},{"s":"NW","x":8,"y":6.5},{"s":"NW","x":9,"y":7.9},{"s":"NW","x":10,"y":8.4},{"s":"NW","x":11,"y":9.2},{"s":"NW","x":12,"y":9.6},{"s":"NW","x":13,"y":9.2},{"s":"NW","x":14,"y":10.0},{"s":"NW","x":15,"y":10.7},{"s":"NW","x":16,"y":10.5},{"s":"NW","x":17,"y":11.2},{"s":"NW","x":18,"y":11.8},{"s":"NW","x":19,"y":13.0},{"s":"NW","x":20,"y":14.0},{"s":"NW","x":21,"y":14.4},{"s":"NW","x":22,"y":16.1},{"s":"NW","x":23,"y":10.8},{"s":"NW","x":24,"y":11.6},{"s":"NW","x":25,"y":18.0},{"s":"NW","x":26,"y":18.4},{"s":"NW","x":27,"y":13.6},{"s":"NW","x":28,"y":14.1},{"s":"NW","x":29,"y":15.0},{"s":"NW","x":30,"y":15.8}
],
"diag":[{"x":5,"y":5},{"x":30,"y":30}],
"fits":[{"g":"rise","x":5.9,"y":5.1},{"g":"rise","x":20.8,"y":15.3},{"g":"flat","x":15.9,"y":14.35},{"g":"flat","x":30,"y":14.35}],
"blank":[{"t":""}]
},
"hconcat":[
{
"title":{"text":"a","anchor":"start","fontSize":31,"fontWeight":"bold","font":"Liberation Serif","color":"#000000","offset":9,"dx":4},
"data":{"name":"curves"},
"facet":{"field":"p","type":"nominal","sort":["NE","UM","OV","SE","SO","NRP","SW","WE","NW"],"header":{"title":null}},
"columns":3,
"spacing":{"row":19,"column":18},
"resolve":{"axis":{"x":"independent","y":"independent"}},
"spec":{
"width":161,"height":119,
"mark":{"type":"line","interpolate":"monotone","strokeWidth":1.8,"clip":true},
"encoding":{
"x":{"field":"x","type":"quantitative","scale":{"domain":[3,8],"nice":false,"zero":false},"axis":{"values":[4,6,8],"title":"log₂ϵ","labelFontSize":19,"titleFontSize":19,"titlePadding":2,"labelPadding":5,"tickSize":-4}},
"y":{"field":"y","type":"quantitative","scale":{"domain":[-20,0],"nice":false},"axis":{"values":[0,-10,-20],"labelExpr":"'' + datum.value","title":"log₂Cₙᵋ","labelFontSize":19,"titleFontSize":19,"titlePadding":6,"labelPadding":5,"tickSize":-4}},
"color":{"field":"m","type":"ordinal","legend":null,"scale":{"domain":[2,3,4,5,6,7,8,9,10,11,12,13,14,15,16,17,18,19,20,21,22,23,24,25,26,27,28,29,30],"range":["#0072BD","#D95319","#EDB120","#7E2F8E","#77AC30","#4DBEEE","#A2142F","#0072BD","#D95319","#EDB120","#7E2F8E","#77AC30","#4DBEEE","#A2142F","#0072BD","#D95319","#EDB120","#7E2F8E","#77AC30","#4DBEEE","#A2142F","#0072BD","#D95319","#EDB120","#7E2F8E","#77AC30","#4DBEEE","#A2142F","#0072BD"]}}
}
}
},
{
"vconcat":[
{"width":505,"height":1,"data":{"name":"blank"},"mark":{"type":"text"},"encoding":{"text":{"field":"t"}},"view":{"stroke":null},
"title":{"text":"b","orient":"bottom","anchor":"start","fontSize":31,"fontWeight":"bold","font":"Liberation Serif","color":"#000000","offset":0,"dx":6,"dy":-17}},
{
"width":505,"height":391,
"layer":[
{"data":{"name":"slopes"},"mark":{"type":"point","filled":false,"strokeWidth":1.5,"size":100,"clip":true},
"encoding":{
"x":{"field":"x","type":"quantitative","scale":{"domain":[5,30],"nice":false,"zero":false},"axis":{"values":[5,10,15,20,25,30],"title":"Embedding Dimension","labelFontSize":22,"titleFontSize":24,"titlePadding":4,"labelPadding":8,"tickSize":-7}},
"y":{"field":"y","type":"quantitative","scale":{"domain":[5,30],"nice":false,"zero":false},"axis":{"values":[5,10,15,20,25,30],"title":"Slope","labelFontSize":22,"titleFontSize":24,"titlePadding":8,"labelPadding":8,"tickSize":-7}},
"color":{"field":"s","type":"nominal","scale":{"domain":["NE","SE","SW","UM","SO","WE","OV","NRP","NW"],"range":["#0072BD","#7E2F8E","#A2142F","#D95319","#77AC30","#0072BD","#EDB120","#4DBEEE","#D95319"]},
"legend":{"title":null,"orient":"top-left","offset":10,"columns":3,"direction":"horizontal","gridAlign":"all","strokeColor":"#262626","fillColor":"white","padding":5,"labelFont":"Liberation Serif","labelFontSize":22,"labelColor":"#000000","columnPadding":6,"rowPadding":2,"symbolSize":90,"symbolStrokeWidth":1.5,"labelOffset":16,"symbolOffset":0}},
"shape":{"field":"s","type":"nominal","scale":{"domain":["NE","SE","SW","UM","SO","WE","OV","NRP","NW"],"range":["circle","square","triangle-down","M-1,0L1,0M0,-1L0,1","diamond","M-0.75,-0.75L0.75,0.75M-0.75,0.75L0.75,-0.75","M-1,0L1,0M0,-1L0,1M-0.7,-0.7L0.7,0.7M-0.7,0.7L0.7,-0.7","triangle-up","M0,-1L0.29,-0.5L0.87,-0.5L0.58,0L0.87,0.5L0.29,0.5L0,1L-0.29,0.5L-0.87,0.5L-0.58,0L-0.87,-0.5L-0.29,-0.5Z"]}}
}},
{"data":{"name":"diag"},"mark":{"type":"line","color":"#000000","strokeWidth":2,"strokeDash":[8,3,2,3]},
"encoding":{"x":{"field":"x","type":"quantitative"},"y":{"field":"y","type":"quantitative"}}},
{"data":{"name":"fits"},"mark":{"type":"line","color":"#12A64A","strokeWidth":4},
"encoding":{"x":{"field":"x","type":"quantitative"},"y":{"field":"y","type":"quantitative"},"detail":{"field":"g","type":"nominal"}}}
]
}
],
"spacing":25,
"resolve":{"scale":{"color":"independent","shape":"independent"},"legend":{"color":"independent","shape":"independent"}}
}
],
"spacing":55,
"resolve":{"scale":{"color":"independent","shape":"independent"},"legend":{"color":"independent","shape":"independent"}}
}
